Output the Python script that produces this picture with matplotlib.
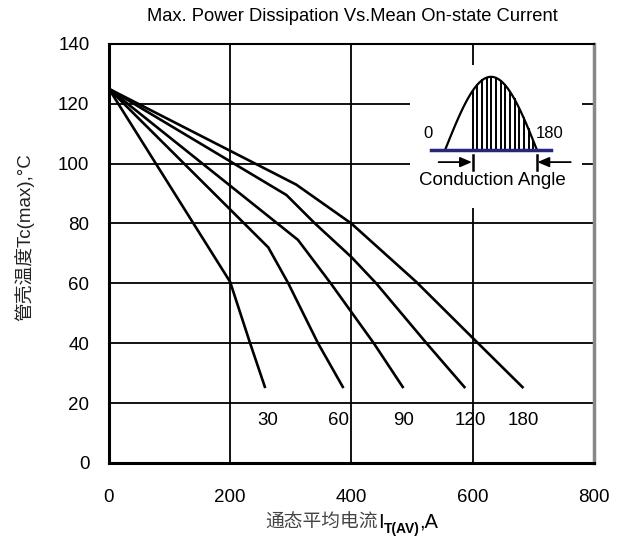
import numpy as np
import matplotlib
matplotlib.use('Agg')
from matplotlib import pyplot as plt
from matplotlib.patches import Rectangle

plt.rcParams['font.family'] = ['Liberation Sans', 'Noto Sans CJK SC', 'DejaVu Sans']

# curves: case temperature vs mean on-state current, per conduction angle
angles = ['30', '60', '90', '120', '180']
x_30 = [0, 200, 233, 258]
y_30 = [125, 60.5, 40, 25]
x_60 = [0, 263, 296, 345, 387]
y_60 = [125, 72, 60, 40, 25]
x_90 = [0, 312, 366, 437, 486]
y_90 = [125, 74.5, 60, 40, 25]
x_120 = [0, 293, 340, 400, 441, 524, 588]
y_120 = [125, 89.5, 80, 68.8, 60, 40, 25]
x_180 = [0, 309, 400, 507, 607, 684]
y_180 = [125, 93, 80, 60.5, 40.4, 25]
curves_x = [x_30, x_60, x_90, x_120, x_180]
curves_y = [y_30, y_60, y_90, y_120, y_180]
label_x = [263, 379, 486, 597, 684]
label_y = 14

xticks = [0, 200, 400, 600, 800]
yticks = [0, 20, 40, 60, 80, 100, 120, 140]

# inset sketch (half sine wave, conduction angle)
wave_start, wave_end = 555, 706
wave_base, wave_peak = 104.7, 129
cond_start = 600

fig = plt.figure(figsize=(6.33, 5.42), dpi=100)
ax = fig.add_axes([0.172, 0.146, 0.766, 0.773])

for xs, ys in zip(curves_x, curves_y):
    ax.plot(xs, ys, color='black', lw=1.9, zorder=3, solid_capstyle='butt')
for lab, lx in zip(angles, label_x):
    ax.text(lx, label_y, lab, ha='center', va='center', fontsize=13.5)

ax.set_xlim(0, 800)
ax.set_ylim(0, 140)
ax.set_xticks(xticks)
ax.set_yticks(yticks)
ax.tick_params(length=0, labelsize=13.5)
ax.tick_params(axis='x', pad=19)
ax.tick_params(axis='y', pad=14)
ax.grid(True, color='black', lw=1.3)
ax.set_axisbelow(True)

for side in ['left', 'bottom']:
    ax.spines[side].set_linewidth(2.2)
ax.spines['top'].set_linewidth(1.5)
ax.spines['right'].set_linewidth(2.5)
ax.spines['right'].set_color('#888888')

# white box behind the inset
ax.add_patch(Rectangle((497, 85), 283, 48, facecolor='white', edgecolor='none', zorder=1.5))

wx = np.linspace(wave_start, wave_end, 100)
wy = wave_base + (wave_peak - wave_base) * np.sin(np.pi * (wx - wave_start) / (wave_end - wave_start))
ax.plot(wx, wy, color='black', lw=1.6, zorder=3)
for hx in np.arange(cond_start, wave_end - 3, 7.7):
    hy = wave_base + (wave_peak - wave_base) * np.sin(np.pi * (hx - wave_start) / (wave_end - wave_start))
    ax.plot([hx, hx], [wave_base, hy], color='black', lw=1.4, zorder=3)
ax.plot([532, 729], [wave_base, wave_base], color='#26267a', lw=2.5, zorder=4)
ax.text(527, 110, '0', ha='center', va='center', fontsize=12)
ax.text(727, 110, '180', ha='center', va='center', fontsize=12)

arrow = dict(arrowstyle='-|>,head_length=0.7,head_width=0.3', color='black', lw=1.3,
             shrinkA=0, shrinkB=0)
ax.annotate('', xy=(cond_start - 1, 100.5), xytext=(544, 100.5), arrowprops=arrow, zorder=4)
ax.annotate('', xy=(wave_end + 1, 100.5), xytext=(762, 100.5), arrowprops=arrow, zorder=4)
ax.plot([cond_start, cond_start], [98, 102.8], color='black', lw=1.8, zorder=4)
ax.plot([wave_end, wave_end], [98, 102.8], color='black', lw=1.8, zorder=4)
ax.text(632, 94.5, 'Conduction Angle', ha='center', va='center', fontsize=13.5)

fig.text(0.556, 0.969, 'Max. Power Dissipation Vs.Mean On-state Current',
         ha='center', va='center', fontsize=13.2)

# x label built from pieces so the subscript and the Chinese text both render
fig.canvas.draw()
renderer = fig.canvas.get_renderer()
ylab_px = 522
parts = [('通态平均电流', 13.5, 'normal', '#444444', 0),
         ('I', 14.5, 'normal', 'black', 0),
         ('T(AV)', 10, 'bold', 'black', -5),
         (',A', 14.5, 'normal', 'black', 0)]
pieces = []
for txt, fs, fw, col, dy in parts:
    t = fig.text(0, 0, txt, fontsize=fs, fontweight=fw, color=col, ha='left', va='baseline')
    pieces.append((t, dy))
widths = [t.get_window_extent(renderer).width for t, _ in pieces]
cur = 352 - sum(widths) / 2
base = 542 - ylab_px - 6
for (t, dy), w in zip(pieces, widths):
    t.set_position((cur / 633, (base + dy) / 542))
    cur += w

ax.set_ylabel('管壳温度Tc(max),°C', fontsize=13.5, color='#222222')
ax.yaxis.set_label_coords(-0.153, 0.54)

fig.savefig('out.png', dpi=100)
